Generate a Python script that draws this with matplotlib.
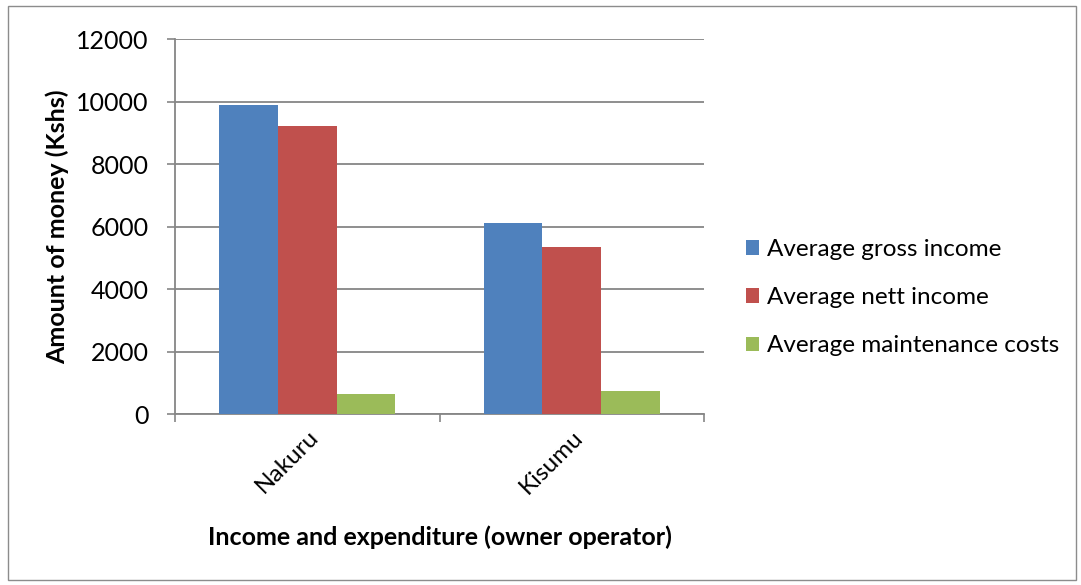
import numpy as np
import matplotlib.pyplot as plt
from matplotlib.patches import Rectangle

plt.rcParams['font.family'] = ['Lato', 'DejaVu Sans']

cities = ['Nakuru', 'Kisumu']
series = ['Average gross income', 'Average nett income', 'Average maintenance costs']
gross = [9900, 6100]
nett = [9230, 5340]
maint = [650, 750]
colors = ['#4F81BD', '#C0504D', '#9BBB59']

fig = plt.figure(figsize=(10.81, 5.85), dpi=100)
fig.patches.append(Rectangle((0.007, 0.009), 0.988, 0.981, transform=fig.transFigure,
                             fill=False, edgecolor='#8c8c8c', lw=1))
ax = fig.add_axes([0.1619, 0.2923, 0.4894, 0.641])

x = np.arange(len(cities))
w = 0.222
for i, (vals, c, lab) in enumerate(zip([gross, nett, maint], colors, series)):
    ax.bar(x + (i - 1) * w, vals, w, color=c, label=lab, zorder=3)

ax.set_xlim(-0.5, 1.5)
ax.set_ylim(0, 12000)
ax.set_yticks(np.arange(0, 12001, 2000))
ax.set_xticks([-0.5, 0.5, 1.5], minor=False)
ax.set_xticklabels([])
ax.set_xticks(x, minor=True)
ax.set_xticklabels(cities, minor=True, rotation=45, ha='right', va='top',
                   rotation_mode='anchor', fontsize=17.5)
ax.tick_params(axis='x', which='major', length=6, color='#868686', width=1.2)
ax.tick_params(axis='x', which='minor', length=0, pad=9)
ax.tick_params(axis='y', length=6, color='#868686', width=1.2, labelsize=18, pad=13)
ax.grid(axis='y', color='#868686', lw=1.3, zorder=0)
for s in ['top', 'right']:
    ax.spines[s].set_visible(False)
for s in ['left', 'bottom']:
    ax.spines[s].set_color('#868686')
    ax.spines[s].set_linewidth(1.3)

ax.set_ylabel('Amount of money (Kshs)', fontsize=18, fontweight='bold',
              ha='center', va='center')
ax.yaxis.set_label_coords(-0.223, 0.5)
ax.set_xlabel('Income and expenditure (owner operator)', fontsize=18, fontweight='bold')
ax.xaxis.set_label_coords(0.5, -0.296)

ax.legend(loc='center left', bbox_to_anchor=(1.06, 0.31), frameon=False,
          fontsize=17.5, handlelength=0.55, handleheight=0.55, handletextpad=0.35,
          labelspacing=1.12, borderaxespad=0)

fig.savefig('out.png', dpi=100)
